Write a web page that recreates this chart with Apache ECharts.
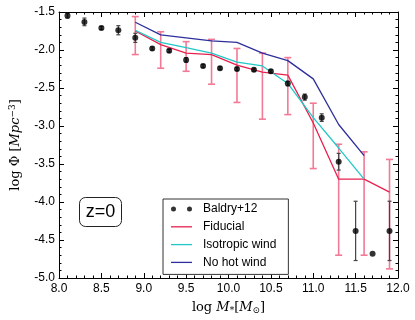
<!DOCTYPE html>
<html>
<head>
<meta charset="utf-8">
<script src="https://cdn.jsdelivr.net/npm/echarts@6/dist/echarts.min.js"></script>
<style>
  html, body { margin: 0; padding: 0; background: #fff; }
  #main { width: 415px; height: 320px; }
</style>
</head>
<body>
<div id="main"></div>
<script>
// Baldry+12 observations
var obsX = [8.1, 8.3, 8.5, 8.7, 8.9, 9.1, 9.3, 9.5, 9.7, 9.9, 10.1, 10.3, 10.5, 10.7, 10.9, 11.1, 11.3, 11.5, 11.7, 11.9];
var obsY = [-1.55, -1.63, -1.71, -1.74, -1.84, -1.98, -2.01, -2.13, -2.21, -2.24, -2.25, -2.26, -2.28, -2.44, -2.62, -2.89, -3.47, -4.38, -4.68, -4.38];
var obsErr = [0.03, 0.05, 0.02, 0.06, 0.06, 0.02, 0.02, 0.03, 0.02, 0.02, 0.02, 0.02, 0.02, 0.03, 0.04, 0.05, 0.11, 0.39, 0, 0.39];

// model mass bins
var modelX = [8.9, 9.2, 9.5, 9.8, 10.1, 10.4, 10.7, 11.0, 11.3, 11.6, 11.9];
var fiducial = [-1.75, -1.93, -2.04, -2.06, -2.20, -2.29, -2.33, -2.96, -3.70, -3.70, -3.87];
var fidLow = [-2.06, -2.24, -2.28, -2.45, -2.69, -2.91, -2.85, -3.56, -4.70, -4.70, -4.88];
var fidHigh = [-1.56, -1.76, -1.89, -1.86, -1.98, -2.04, -2.10, -2.70, -3.24, -3.34, -3.44];
var isotropic = [-1.74, -1.90, -1.97, -2.04, -2.16, -2.21, -2.44, -2.89, -3.29, -3.70, null];
var noHotWind = [-1.635, -1.80, -1.84, -1.88, -1.90, -2.04, -2.14, -2.38, -2.98, -3.39, null];

var xTicks = { min: 8, max: 12, interval: 0.5 };
var yTicks = { min: -5, max: -1.5, interval: 0.5 };

var RED = "#e8204e", PINK = "#f27a96", CYAN = "#22c8c8", NAVY = "#2e2e9c";
var SANS = '"Liberation Sans", Arial, sans-serif';
var SERIF = '"DejaVu Serif", "Liberation Serif", serif';

function pairs(xs, ys) {
  var out = [];
  for (var i = 0; i < xs.length; i++) {
    if (ys[i] !== null) out.push([xs[i], ys[i]]);
  }
  return out;
}

function errBars(color, lw, capHalf) {
  return function (params, api) {
    var x = api.value(0);
    var lo = api.coord([x, api.value(1)]);
    var hi = api.coord([x, api.value(2)]);
    if (Math.abs(lo[1] - hi[1]) < 0.5) return null;
    var st = { stroke: color, lineWidth: lw };
    return {
      type: "group",
      children: [
        { type: "line", shape: { x1: lo[0], y1: lo[1], x2: hi[0], y2: hi[1] }, style: st },
        { type: "line", shape: { x1: lo[0] - capHalf, y1: lo[1], x2: lo[0] + capHalf, y2: lo[1] }, style: st },
        { type: "line", shape: { x1: hi[0] - capHalf, y1: hi[1], x2: hi[0] + capHalf, y2: hi[1] }, style: st }
      ]
    };
  };
}

function sideAxis(base, pos) {
  return Object.assign({}, base, {
    position: pos,
    axisLabel: { show: false },
    name: ""
  });
}

var axisCommon = {
  type: "value",
  axisLine: { show: true, onZero: false, lineStyle: { color: "#000", width: 1 } },
  axisTick: { show: true, inside: true, length: 5, lineStyle: { color: "#000" } },
  minorTick: { show: true, splitNumber: 5, length: 2.5, lineStyle: { color: "#000" } },
  splitLine: { show: false }
};

var xBase = Object.assign({}, axisCommon, {
  min: xTicks.min, max: xTicks.max, interval: xTicks.interval,
  axisLabel: { color: "#000", fontSize: 12, fontFamily: SANS, margin: 5,
    formatter: function (v) { return v.toFixed(1); } }
});
var yBase = Object.assign({}, axisCommon, {
  min: yTicks.min, max: yTicks.max, interval: yTicks.interval,
  axisLabel: { color: "#000", fontSize: 12, fontFamily: SANS, margin: 4,
    formatter: function (v) { return v.toFixed(1); } }
});

var lineIcon = "path://M0,0 L21,0 L21,1.3 L0,1.3 Z";
var dotsIcon = "path://M0,2.5 A2.5,2.5 0 1 1 5,2.5 A2.5,2.5 0 1 1 0,2.5 Z M16,2.5 A2.5,2.5 0 1 1 21,2.5 A2.5,2.5 0 1 1 16,2.5 Z";

var chart = echarts.init(document.getElementById("main"));
var option = {
  animation: false,
  backgroundColor: "#fff",
  grid: { left: 51, right: 17, top: 12, bottom: 41 },
  xAxis: [
    Object.assign({}, xBase, {
      position: "bottom",
      name: "{n|log }{i|M}{s|*}{n|[}{i|M}{s|⊙}{n|]}",
      nameLocation: "middle",
      nameGap: 22,
      nameTextStyle: {
        rich: {
          n: { fontFamily: SERIF, fontSize: 13, color: "#000" },
          i: { fontFamily: SERIF, fontStyle: "italic", fontSize: 13, color: "#000" },
          s: { fontFamily: SERIF, fontSize: 9, color: "#000", verticalAlign: "bottom", padding: [6, 0, 0, 0] }
        }
      }
    }),
    sideAxis(xBase, "top")
  ],
  yAxis: [
    Object.assign({}, yBase, {
      position: "left",
      name: "{n|log Φ [}{i|Mpc}{s|−3}{n|]}",
      nameLocation: "middle",
      nameRotate: 90,
      nameGap: 36,
      nameTextStyle: {
        rich: {
          n: { fontFamily: SERIF, fontSize: 13, color: "#000" },
          i: { fontFamily: SERIF, fontStyle: "italic", fontSize: 13, color: "#000" },
          s: { fontFamily: SERIF, fontSize: 9, color: "#000", verticalAlign: "top", padding: [0, 0, 6, 0] }
        }
      }
    }),
    sideAxis(yBase, "right")
  ],
  legend: {
    orient: "vertical",
    left: 163,
    top: 199,
    padding: [4, 12, 6, 8],
    itemWidth: 21,
    itemHeight: 12,
    itemGap: 5.8,
    borderColor: "#333",
    borderWidth: 1,
    backgroundColor: "#fff",
    selectedMode: false,
    textStyle: { fontFamily: SANS, fontSize: 12, color: "#000", padding: [0, 0, 0, 6] },
    data: [
      { name: "Baldry+12", icon: dotsIcon },
      { name: "Fiducial", icon: lineIcon },
      { name: "Isotropic wind", icon: lineIcon },
      { name: "No hot wind", icon: lineIcon }
    ]
  },
  graphic: [{
    type: "group",
    left: 79,
    top: 197,
    z: 100,
    children: [
      { type: "rect", shape: { x: 0, y: 0, width: 42, height: 29, r: 6 },
        style: { fill: "#fff", stroke: "#222", lineWidth: 1 } },
      { type: "text", x: 21, y: 15,
        style: { text: "z=0", font: '18px "Liberation Sans"', align: "center", verticalAlign: "middle", fill: "#000" } }
    ]
  }],
  series: [
    {
      name: "fidErr",
      type: "custom",
      z: 1,
      renderItem: errBars(PINK, 1.6, 3.5),
      encode: { x: 0, y: [1, 2] },
      data: modelX.map(function (x, i) { return [x, fidLow[i], fidHigh[i]]; })
    },
    {
      name: "Fiducial",
      type: "line",
      z: 2,
      color: RED,
      showSymbol: false,
      lineStyle: { color: RED, width: 1.3 },
      data: pairs(modelX, fiducial)
    },
    {
      name: "Isotropic wind",
      type: "line",
      z: 2,
      color: CYAN,
      showSymbol: false,
      lineStyle: { color: CYAN, width: 1.3 },
      data: pairs(modelX, isotropic)
    },
    {
      name: "No hot wind",
      type: "line",
      z: 2,
      color: NAVY,
      showSymbol: false,
      lineStyle: { color: NAVY, width: 1.3 },
      data: pairs(modelX, noHotWind)
    },
    {
      name: "obsErr",
      type: "custom",
      z: 3,
      renderItem: errBars("#444", 1.2, 2),
      encode: { x: 0, y: [1, 2] },
      data: obsX.map(function (x, i) { return [x, obsY[i] - obsErr[i], obsY[i] + obsErr[i]]; })
    },
    {
      name: "Baldry+12",
      type: "scatter",
      z: 4,
      color: "#000",
      symbolSize: 6,
      itemStyle: { color: "#000" },
      data: pairs(obsX, obsY)
    }
  ]
};
chart.setOption(option);
</script>
</body>
</html>
